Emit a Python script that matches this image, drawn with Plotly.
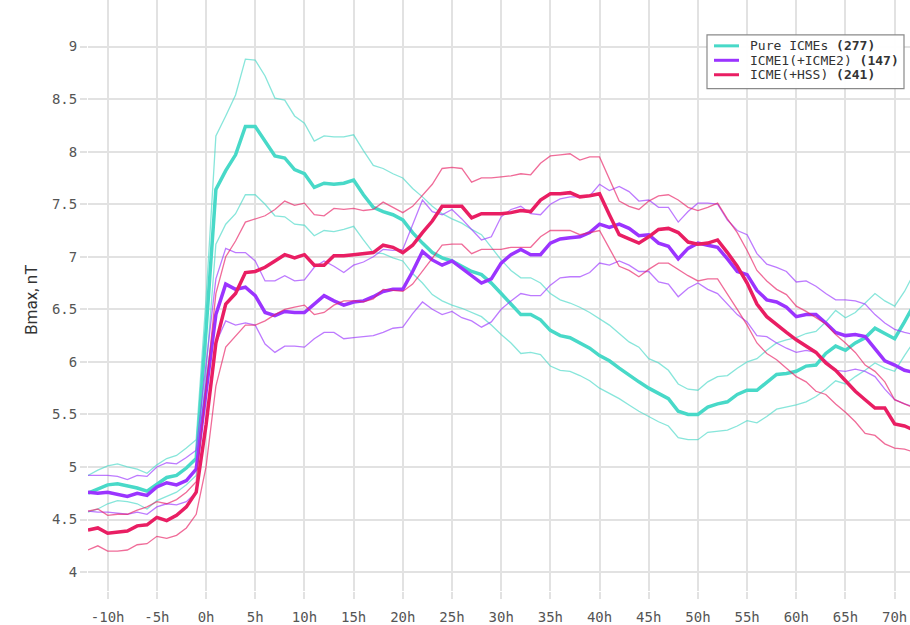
import plotly.graph_objects as go

hours = list(range(-12, 73))
x_tick_vals = list(range(-10, 71, 5))
x_tick_text = [f"{v}h" for v in x_tick_vals]
y_tick_vals = [4, 4.5, 5, 5.5, 6, 6.5, 7, 7.5, 8, 8.5, 9]
y_tick_text = ["4", "4.5", "5", "5.5", "6", "6.5", "7", "7.5", "8", "8.5", "9"]

pure_mean = [4.75, 4.79, 4.83, 4.84, 4.82, 4.80, 4.77, 4.84, 4.90, 4.92, 4.99, 5.08, 6.30, 7.64, 7.82, 7.97, 8.24, 8.24, 8.10, 7.96, 7.94, 7.83, 7.79, 7.66, 7.70, 7.69, 7.70, 7.73,
             7.59, 7.47, 7.43, 7.40, 7.35, 7.23, 7.13, 7.04, 6.99, 6.96, 6.91, 6.86, 6.83, 6.75, 6.65, 6.55, 6.45, 6.45, 6.40, 6.30, 6.25, 6.23, 6.18, 6.13, 6.06, 6.01, 5.94, 5.87, 5.81,
             5.75, 5.70, 5.65, 5.53, 5.50, 5.50, 5.57, 5.60, 5.62, 5.69, 5.73, 5.73, 5.80, 5.88, 5.89, 5.91, 5.96, 5.97, 6.08, 6.15, 6.11, 6.18, 6.23, 6.32, 6.27, 6.22, 6.38, 6.55]
pure_upper = [4.92, 4.97, 5.01, 5.03, 5.00, 4.98, 4.94, 5.02, 5.08, 5.11, 5.18, 5.26, 6.60, 8.15, 8.34, 8.54, 8.88, 8.87, 8.72, 8.51, 8.49, 8.34, 8.27, 8.10, 8.15, 8.14, 8.14, 8.16,
              8.01, 7.87, 7.84, 7.79, 7.75, 7.65, 7.57, 7.48, 7.41, 7.36, 7.32, 7.26, 7.21, 7.09, 6.97, 6.87, 6.80, 6.80, 6.75, 6.65, 6.59, 6.56, 6.52, 6.47, 6.41, 6.35, 6.27, 6.19, 6.14,
              6.03, 5.99, 5.92, 5.79, 5.74, 5.73, 5.81, 5.86, 5.87, 5.94, 6.00, 6.03, 6.11, 6.18, 6.21, 6.23, 6.27, 6.29, 6.38, 6.49, 6.42, 6.47, 6.56, 6.65, 6.58, 6.53, 6.67, 6.85]
pure_lower = [4.57, 4.60, 4.65, 4.68, 4.67, 4.65, 4.60, 4.68, 4.72, 4.76, 4.83, 4.92, 5.90, 7.12, 7.31, 7.41, 7.59, 7.59, 7.50, 7.39, 7.38, 7.31, 7.30, 7.20, 7.25, 7.24, 7.26, 7.29,
              7.16, 7.04, 7.03, 6.99, 6.96, 6.84, 6.75, 6.64, 6.58, 6.54, 6.51, 6.47, 6.43, 6.35, 6.26, 6.18, 6.08, 6.09, 6.07, 5.96, 5.92, 5.91, 5.87, 5.82, 5.75, 5.70, 5.65, 5.59, 5.53,
              5.48, 5.43, 5.39, 5.28, 5.26, 5.26, 5.33, 5.34, 5.35, 5.39, 5.44, 5.42, 5.48, 5.55, 5.57, 5.59, 5.62, 5.67, 5.74, 5.82, 5.79, 5.86, 5.92, 5.99, 5.94, 5.91, 6.06, 6.20]

icme_mean = [4.76, 4.75, 4.76, 4.74, 4.72, 4.75, 4.73, 4.81, 4.85, 4.83, 4.87, 4.98, 5.70, 6.45, 6.74, 6.69, 6.71, 6.63, 6.47, 6.44, 6.48, 6.47, 6.47, 6.55, 6.63, 6.58, 6.54, 6.57,
             6.58, 6.62, 6.67, 6.69, 6.69, 6.86, 7.05, 6.97, 6.92, 6.96, 6.89, 6.82, 6.75, 6.79, 6.94, 7.02, 7.07, 7.02, 7.02, 7.13, 7.17, 7.18, 7.19, 7.23, 7.31, 7.28, 7.31, 7.27, 7.20,
             7.21, 7.13, 7.10, 6.98, 7.08, 7.13, 7.11, 7.09, 6.98, 6.86, 6.83, 6.68, 6.59, 6.57, 6.52, 6.43, 6.45, 6.45, 6.37, 6.28, 6.25, 6.26, 6.24, 6.13, 6.01, 5.97, 5.92, 5.90]
icme_upper = [4.92, 4.92, 4.92, 4.91, 4.88, 4.92, 4.91, 5.00, 5.04, 5.03, 5.09, 5.16, 6.00, 6.79, 7.08, 7.04, 7.04, 6.96, 6.77, 6.77, 6.82, 6.77, 6.78, 6.90, 6.96, 6.91, 6.85, 6.92,
              6.95, 7.00, 7.07, 7.06, 7.07, 7.30, 7.54, 7.43, 7.40, 7.45, 7.36, 7.26, 7.16, 7.19, 7.38, 7.45, 7.48, 7.41, 7.40, 7.50, 7.55, 7.57, 7.57, 7.58, 7.69, 7.63, 7.67, 7.62, 7.53,
              7.54, 7.47, 7.47, 7.33, 7.43, 7.51, 7.51, 7.50, 7.35, 7.25, 7.21, 7.03, 6.93, 6.90, 6.86, 6.76, 6.77, 6.72, 6.65, 6.59, 6.59, 6.58, 6.55, 6.45, 6.37, 6.31, 6.28, 6.26]
icme_lower = [4.58, 4.57, 4.57, 4.56, 4.55, 4.57, 4.55, 4.62, 4.65, 4.64, 4.67, 4.76, 5.40, 6.18, 6.39, 6.35, 6.37, 6.35, 6.17, 6.09, 6.15, 6.15, 6.14, 6.22, 6.28, 6.28, 6.22, 6.23,
              6.24, 6.25, 6.28, 6.32, 6.33, 6.46, 6.57, 6.50, 6.45, 6.48, 6.42, 6.39, 6.33, 6.38, 6.50, 6.58, 6.65, 6.63, 6.63, 6.73, 6.80, 6.81, 6.81, 6.85, 6.94, 6.92, 6.96, 6.92, 6.86,
              6.86, 6.76, 6.74, 6.62, 6.70, 6.75, 6.69, 6.65, 6.55, 6.45, 6.38, 6.25, 6.24, 6.18, 6.13, 6.09, 6.11, 6.09, 6.01, 5.92, 5.91, 5.93, 5.91, 5.86, 5.74, 5.64, 5.60, 5.57]

hss_mean = [4.40, 4.42, 4.37, 4.38, 4.39, 4.44, 4.45, 4.52, 4.49, 4.54, 4.62, 4.76, 5.40, 6.18, 6.55, 6.65, 6.85, 6.86, 6.90, 6.96, 7.02, 6.99, 7.02, 6.92, 6.92, 7.01, 7.01, 7.02,
            7.03, 7.04, 7.11, 7.09, 7.04, 7.11, 7.23, 7.34, 7.48, 7.48, 7.48, 7.37, 7.41, 7.41, 7.41, 7.42, 7.44, 7.43, 7.54, 7.60, 7.60, 7.61, 7.57, 7.58, 7.60, 7.40, 7.21, 7.17, 7.13,
            7.19, 7.26, 7.27, 7.23, 7.14, 7.12, 7.13, 7.16, 7.04, 6.91, 6.75, 6.55, 6.43, 6.35, 6.28, 6.21, 6.15, 6.09, 5.99, 5.92, 5.82, 5.72, 5.64, 5.56, 5.56, 5.41, 5.39, 5.35]
hss_upper = [4.58, 4.60, 4.54, 4.55, 4.55, 4.59, 4.62, 4.67, 4.65, 4.69, 4.76, 4.86, 5.75, 6.65, 7.00, 7.15, 7.33, 7.36, 7.39, 7.45, 7.53, 7.49, 7.51, 7.40, 7.39, 7.46, 7.45, 7.46,
             7.44, 7.45, 7.52, 7.47, 7.42, 7.48, 7.59, 7.69, 7.84, 7.85, 7.84, 7.71, 7.75, 7.75, 7.76, 7.77, 7.79, 7.78, 7.89, 7.96, 7.97, 7.98, 7.92, 7.95, 7.95, 7.74, 7.53, 7.48, 7.45,
             7.53, 7.58, 7.59, 7.54, 7.47, 7.44, 7.47, 7.51, 7.36, 7.23, 7.06, 6.87, 6.77, 6.69, 6.64, 6.53, 6.48, 6.42, 6.36, 6.26, 6.18, 6.09, 5.97, 5.91, 5.81, 5.64, 5.60, 5.56]
hss_lower = [4.21, 4.25, 4.20, 4.20, 4.21, 4.26, 4.27, 4.34, 4.32, 4.35, 4.42, 4.55, 5.00, 5.77, 6.14, 6.25, 6.35, 6.35, 6.39, 6.45, 6.50, 6.52, 6.54, 6.45, 6.47, 6.54, 6.58, 6.58,
             6.57, 6.60, 6.69, 6.68, 6.67, 6.74, 6.86, 6.99, 7.11, 7.12, 7.12, 7.03, 7.07, 7.07, 7.07, 7.09, 7.09, 7.09, 7.19, 7.25, 7.25, 7.25, 7.21, 7.23, 7.25, 7.08, 6.91, 6.87, 6.81,
             6.88, 6.94, 6.94, 6.88, 6.82, 6.77, 6.79, 6.79, 6.65, 6.50, 6.35, 6.18, 6.08, 6.02, 5.94, 5.86, 5.81, 5.72, 5.69, 5.60, 5.52, 5.43, 5.32, 5.30, 5.22, 5.18, 5.17, 5.14]

groups = [
    ("Pure ICMEs", "277", "#48d9c8", pure_mean, pure_upper, pure_lower),
    ("ICME1(+ICME2)", "147", "#9b34ff", icme_mean, icme_upper, icme_lower),
    ("ICME(+HSS)", "241", "#e91e63", hss_mean, hss_upper, hss_lower),
]

fig = go.Figure()
for name, count, color, mean, upper, lower in groups:
    for band in (upper, lower):
        fig.add_trace(go.Scatter(x=hours, y=band, mode="lines", showlegend=False,
                                 line=dict(color=color, width=1.3), opacity=0.65,
                                 hoverinfo="skip"))
    fig.add_trace(go.Scatter(x=hours, y=mean, mode="lines", name=f"{name} ({count})",
                             showlegend=False, line=dict(color=color, width=3.5)))

# Legend (drawn in paper coordinates)
L, R = 88, 910
T, B = 0, 593
def px(xp):
    return (xp - L) / (R - L)
def py(yp):
    return 1 - (yp - T) / (B - T)

shapes = [dict(type="rect", xref="paper", yref="paper", x0=px(707), x1=px(904), y0=py(89), y1=py(35),
               line=dict(color="#8a8a8a", width=1.2), fillcolor="rgba(255,255,255,0.95)", layer="above")]
annotations = []
rows = [46, 60.5, 75]
for (name, count, color, *_), yr in zip(groups, rows):
    shapes.append(dict(type="line", xref="paper", yref="paper", x0=px(714), x1=px(739), y0=py(yr), y1=py(yr),
                       line=dict(color=color, width=3), layer="above"))
    annotations.append(dict(xref="paper", yref="paper", x=px(748), y=py(yr), xanchor="left", yanchor="middle",
                            text=f"{name} <b>({count})</b>", showarrow=False,
                            font=dict(family="DejaVu Sans Mono", size=13, color="#333")))

annotations.append(dict(xref="paper", yref="paper", x=px(31), y=py(301), xanchor="center", yanchor="middle",
                        text="Bmax, nT", textangle=-90, showarrow=False,
                        font=dict(family="Roboto", size=17, color="#333")))

fig.update_layout(
    width=910, height=625,
    margin=dict(l=88, r=0, t=0, b=32),
    paper_bgcolor="white", plot_bgcolor="white",
    showlegend=False,
    shapes=shapes, annotations=annotations,
    xaxis=dict(range=[-12, 71.56], tickvals=x_tick_vals, ticktext=x_tick_text,
               showgrid=True, gridcolor="#e2e2e2", gridwidth=1.6, zeroline=False,
               ticks="outside", ticklen=7, tickcolor="#e2e2e2", tickwidth=1.6,
               ticklabelstandoff=6,
               tickfont=dict(family="DejaVu Sans Mono", size=14, color="#555"), showline=False),
    yaxis=dict(range=[3.82, 9.443], tickvals=y_tick_vals, ticktext=y_tick_text,
               showgrid=True, gridcolor="#e2e2e2", gridwidth=1.6, zeroline=False,
               ticks="outside", ticklen=7, tickcolor="#e2e2e2", tickwidth=1.6,
               tickfont=dict(family="DejaVu Sans Mono", size=14, color="#555"), showline=False),
)

fig.write_html("out.html", config={"displayModeBar": False},
               post_script="document.body.style.margin='0';document.body.style.overflow='hidden';")
